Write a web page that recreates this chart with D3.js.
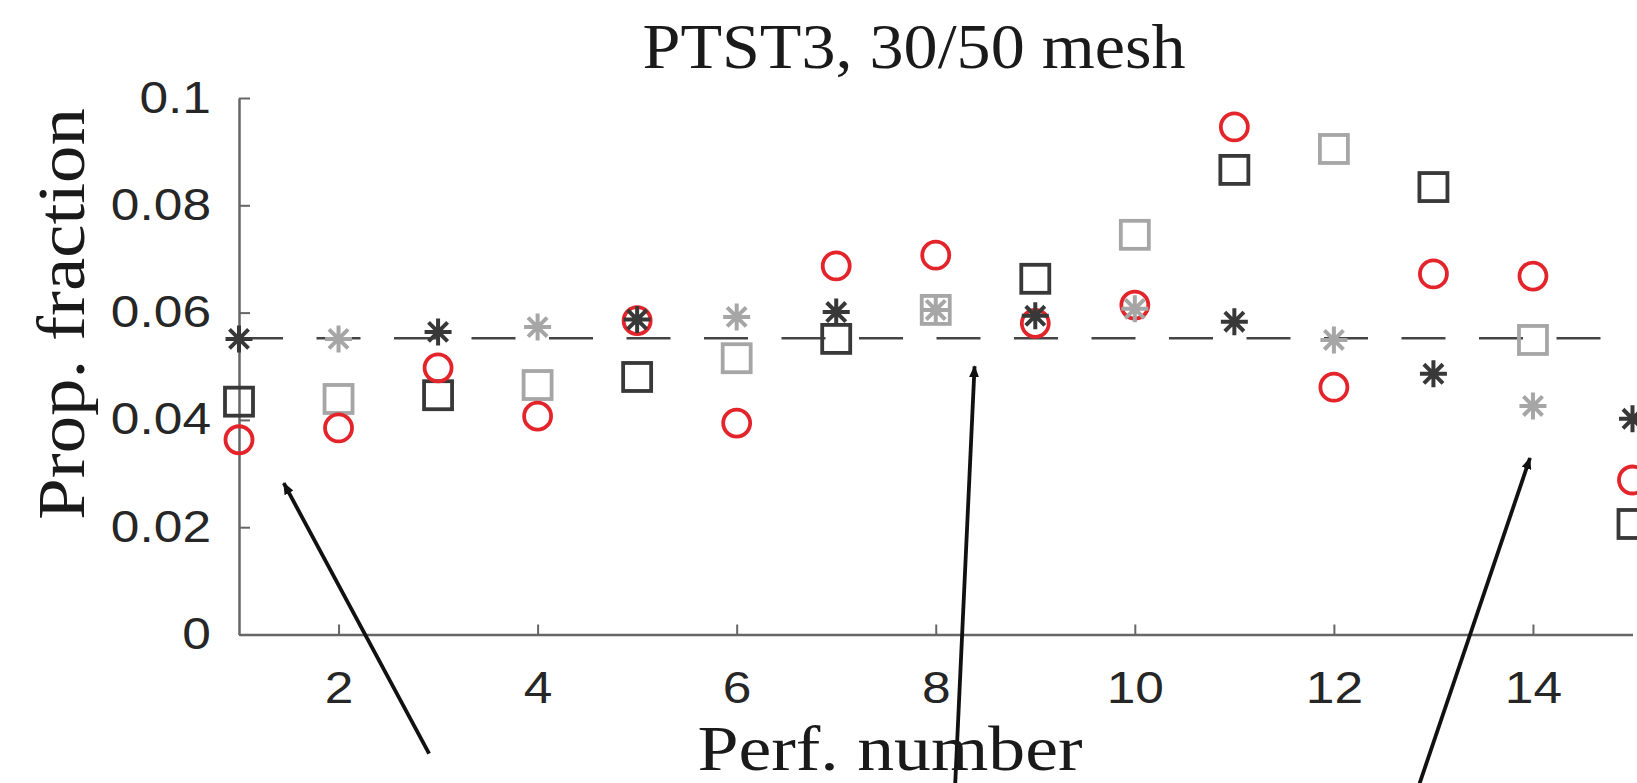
<!DOCTYPE html>
<html>
<head>
<meta charset="utf-8">
<script src="https://cdn.jsdelivr.net/npm/d3@7"></script>
<style>
  html, body { margin: 0; padding: 0; background: #fff; overflow: hidden; }
  #chart { width: 1637px; height: 783px; }
</style>
</head>
<body>
<div id="chart"></div>
<script>
// perforation numbers and the three measured series
const perfs = [1, 2, 3, 4, 5, 6, 7, 8, 9, 10, 11, 12, 13, 14, 15];
const starValues = [0.0551, 0.0551, 0.0564, 0.0573, 0.0587, 0.0592, 0.0601, 0.0605, 0.0594, 0.0607, 0.0583, 0.0549, 0.0486, 0.0426, 0.0402];
const circleValues = [0.0363, 0.0385, 0.0497, 0.0407, 0.0585, 0.0394, 0.0687, 0.0707, 0.0580, 0.0614, 0.0946, 0.0461, 0.0672, 0.0668, 0.0288];
const squareValues = [0.0434, 0.0439, 0.0446, 0.0465, 0.0480, 0.0515, 0.0551, 0.0605, 0.0663, 0.0745, 0.0866, 0.0905, 0.0834, 0.0549, 0.0206];

const xTicks = [2, 4, 6, 8, 10, 12, 14];
const yTicks = [0, 0.02, 0.04, 0.06, 0.08, 0.1];
const yTickLabels = ['0', '0.02', '0.04', '0.06', '0.08', '0.1'];
const refLevel = 0.0552;

// annotation arrows (tail -> head), in data units
const arrowTails = [[2.91, -0.0222], [8.19, -0.030], [12.82, -0.030]];
const arrowHeads = [[1.45, 0.0282], [8.39, 0.0500], [13.97, 0.0329]];

const titleText = 'PTST3, 30/50 mesh';
const xLabel = 'Perf. number';
const yLabel = 'Prop. fraction';

const width = 1637;
const height = 783;

const darkGrey = '#383838';
const lightGrey = '#a6a6a6';
const red = '#e3242b';
const axisGrey = '#666';

const svg = d3
    .select('#chart')
    .append('svg')
    .attr('width', width)
    .attr('height', height);

const xScale = d3.scaleLinear().domain([1, 15]).range([239, 1632.5]);
const yScale = d3.scaleLinear().domain([0, 0.1]).range([634.5, 98]);

// stretch helvetica-like labels a bit wider, like the original
function widen(sel, k) {
    sel.each(function () {
        const w = this.getComputedTextLength();
        d3.select(this).attr('textLength', w * k).attr('lengthAdjust', 'spacingAndGlyphs');
    });
}

// axes
const xAxis = svg
    .append('g')
    .attr('transform', `translate(0, ${yScale(0)})`)
    .call(d3.axisBottom(xScale).tickValues(xTicks).tickSizeInner(-10).tickSizeOuter(0).tickPadding(37).tickFormat(d3.format('d')));

const yAxis = svg
    .append('g')
    .attr('transform', `translate(${xScale(1)}, 0)`)
    .call(d3.axisLeft(yScale).tickValues(yTicks).tickSizeInner(-11).tickSizeOuter(0).tickPadding(28).tickFormat((d, i) => yTickLabels[i]));

[xAxis, yAxis].forEach(ax => {
    ax.select('.domain').attr('stroke', axisGrey).attr('stroke-width', 2.5);
    ax.selectAll('.tick line').attr('stroke', axisGrey).attr('stroke-width', 2);
    ax.selectAll('.tick text')
        .attr('fill', '#262626')
        .style('font-family', '"Liberation Sans", Arial, sans-serif')
        .style('font-size', '44px');
    widen(ax.selectAll('.tick text'), 1.17);
});

// reference level
svg
    .append('line')
    .attr('x1', xScale(1))
    .attr('x2', xScale(15))
    .attr('y1', yScale(refLevel))
    .attr('y2', yScale(refLevel))
    .attr('stroke', '#454545')
    .attr('stroke-width', 2.5)
    .attr('stroke-dasharray', '44 33.5');

const shade = d => (d % 2 === 1 ? darkGrey : lightGrey);

// squares
svg
    .selectAll('.sq')
    .data(perfs)
    .enter()
    .append('rect')
    .attr('class', 'sq')
    .attr('x', d => xScale(d) - 14)
    .attr('y', (d, i) => yScale(squareValues[i]) - 14)
    .attr('width', 28)
    .attr('height', 28)
    .attr('fill', 'none')
    .attr('stroke', d => shade(d))
    .attr('stroke-width', 3.8);

// circles
svg
    .selectAll('.circ')
    .data(perfs)
    .enter()
    .append('circle')
    .attr('class', 'circ')
    .attr('cx', d => xScale(d))
    .attr('cy', (d, i) => yScale(circleValues[i]))
    .attr('r', 13.5)
    .attr('fill', 'none')
    .attr('stroke', red)
    .attr('stroke-width', 3.8);

// asterisks: plus + times
const starPath = r => {
    const a = r * Math.SQRT1_2;
    return `M${-r},0L${r},0M0,${-r}L0,${r}M${-a},${-a}L${a},${a}M${-a},${a}L${a},${-a}`;
};
svg
    .selectAll('.star')
    .data(perfs)
    .enter()
    .append('path')
    .attr('class', 'star')
    .attr('transform', (d, i) => `translate(${xScale(d)}, ${yScale(starValues[i])})`)
    .attr('d', starPath(13.5))
    .attr('fill', 'none')
    .attr('stroke', d => shade(d))
    .attr('stroke-width', 4);

// arrows
svg
    .append('defs')
    .append('marker')
    .attr('id', 'head')
    .attr('markerUnits', 'userSpaceOnUse')
    .attr('viewBox', '0 0 12 10')
    .attr('refX', 11)
    .attr('refY', 5)
    .attr('markerWidth', 12)
    .attr('markerHeight', 10)
    .attr('orient', 'auto')
    .append('path')
    .attr('d', 'M0,0L12,5L0,10Z')
    .attr('fill', '#111');

svg
    .selectAll('.arrow')
    .data(arrowTails)
    .enter()
    .append('line')
    .attr('class', 'arrow')
    .attr('x1', d => xScale(d[0]))
    .attr('y1', d => yScale(d[1]))
    .attr('x2', (d, i) => xScale(arrowHeads[i][0]))
    .attr('y2', (d, i) => yScale(arrowHeads[i][1]))
    .attr('stroke', '#111')
    .attr('stroke-width', 3.8)
    .attr('marker-end', 'url(#head)');

// title and axis labels
const serif = '"Liberation Serif", "Times New Roman", serif';

svg
    .append('text')
    .attr('x', 914)
    .attr('y', 68)
    .attr('text-anchor', 'middle')
    .attr('textLength', 543)
    .attr('lengthAdjust', 'spacingAndGlyphs')
    .style('font-family', serif)
    .style('font-size', '64px')
    .attr('fill', '#1a1a1a')
    .text(titleText);

svg
    .append('text')
    .attr('x', 890)
    .attr('y', 770)
    .attr('text-anchor', 'middle')
    .attr('textLength', 385)
    .attr('lengthAdjust', 'spacingAndGlyphs')
    .style('font-family', serif)
    .style('font-size', '64px')
    .attr('fill', '#1a1a1a')
    .text(xLabel);

svg
    .append('text')
    .attr('transform', 'translate(84, 314) rotate(-90)')
    .attr('text-anchor', 'middle')
    .attr('textLength', 412)
    .attr('lengthAdjust', 'spacingAndGlyphs')
    .style('font-family', serif)
    .style('font-size', '67px')
    .attr('fill', '#1a1a1a')
    .text(yLabel);
</script>
</body>
</html>
